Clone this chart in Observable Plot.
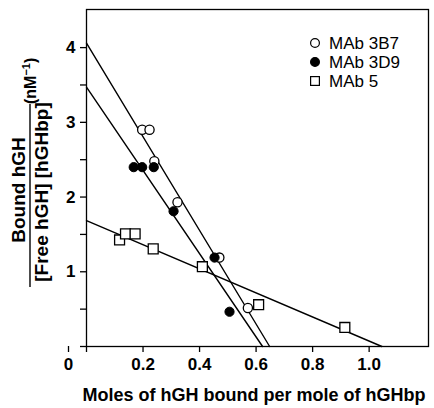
<!DOCTYPE html>
<html><head><meta charset="utf-8">
<script src="https://cdn.jsdelivr.net/npm/d3@7"></script>
<script src="https://cdn.jsdelivr.net/npm/@observablehq/plot@0.6"></script>
<style>body{margin:0;background:#fff}</style>
</head><body><div id="chart"></div>
<script>
// Data
const x3B7 = [0.197, 0.223, 0.240, 0.322, 0.470, 0.571];
const y3B7 = [2.90, 2.90, 2.48, 1.93, 1.19, 0.515];
const x3D9 = [0.167, 0.197, 0.238, 0.308, 0.453, 0.506];
const y3D9 = [2.40, 2.40, 2.40, 1.81, 1.19, 0.465];
const x5 = [0.117, 0.138, 0.172, 0.236, 0.410, 0.609, 0.914];
const y5 = [1.426, 1.507, 1.507, 1.306, 1.068, 0.559, 0.255];
// fitted lines: [y-intercept at x=0, x-intercept at y=0]
const fitSeries = ["MAb 3B7", "MAb 3D9", "MAb 5"];
const fitYIntercept = [4.06, 3.47, 1.685];
const fitXIntercept = [0.648, 0.623, 1.045];
const xTicks = [0.2, 0.4, 0.6, 0.8, 1.0];
const yTicks = [0, 0.5, 1, 1.5, 2, 2.5, 3, 3.5, 4];

const pts = (xs, ys) => xs.map((x, i) => ({x, y: ys[i]}));
const d3B7 = pts(x3B7, y3B7), d3D9 = pts(x3D9, y3D9), d5 = pts(x5, y5);
const fits = fitSeries.flatMap((s, i) => [
  {s, x: 0, y: fitYIntercept[i]},
  {s, x: fitXIntercept[i], y: 0}
]);

const font = "'Liberation Sans', Arial, Helvetica, sans-serif";
const plot = Plot.plot({
  width: 434, height: 408,
  marginLeft: 86, marginRight: 6, marginTop: 9, marginBottom: 62,
  x: {domain: [0, 1.21]},
  y: {domain: [0, 4.51]},
  style: {fontFamily: font, fontSize: "17px", fontWeight: "bold", color: "#000", background: "#fff"},
  marks: [
    Plot.frame({stroke: "#000", strokeWidth: 1.3}),
    Plot.axisX({ticks: [0, ...xTicks], tickSize: 6, tickPadding: 5, strokeWidth: 1.3,
      tickFormat: d => d === 0 ? "" : d.toFixed(1), label: null}),
    Plot.axisX({ticks: [0], tickSize: 6, tickPadding: 5, tickFormat: () => "0", dx: -18, label: null, strokeWidth: 1.3}),
    Plot.axisY({ticks: yTicks, tickSize: 6, tickPadding: 5, strokeWidth: 1.3,
      tickFormat: d => (Number.isInteger(d) && d > 0) ? String(d) : "", label: null}),
    Plot.line(fits, {x: "x", y: "y", z: "s", stroke: "#000", strokeWidth: 1.4}),
    Plot.dot(d3B7, {x: "x", y: "y", r: 4.6, fill: "#fff", stroke: "#000", strokeWidth: 1.3}),
    Plot.dot(d3D9, {x: "x", y: "y", r: 4.6, fill: "#000", stroke: "#000", strokeWidth: 1}),
    Plot.dot(d5, {x: "x", y: "y", symbol: "square", r: 5.6, fill: "#fff", stroke: "#000", strokeWidth: 1.3})
  ]
});
document.getElementById("chart").append(plot);

const svg = d3.select(plot);
// X axis title
svg.append("text").attr("x", 254).attr("y", 401).attr("text-anchor", "middle")
  .attr("font-family", font).attr("font-weight", "bold").attr("font-size", 18)
  .text("Moles of hGH bound per mole of hGHbp");

// Y axis title (fraction)
const g = svg.append("g").attr("transform", "translate(0,192) rotate(-90)")
  .attr("font-family", font).attr("font-weight", "bold").attr("fill", "#000");
g.append("text").attr("x", 2).attr("y", 25).attr("text-anchor", "middle").attr("font-size", 19).text("Bound hGH");
g.append("line").attr("x1", -95).attr("x2", 88).attr("y1", 30).attr("y2", 30).attr("stroke", "#000").attr("stroke-width", 1.4);
g.append("text").attr("x", 0).attr("y", 48).attr("text-anchor", "middle").attr("font-size", 19).text("[Free hGH] [hGHbp]");
const u = g.append("text").attr("x", 88).attr("y", 36).attr("text-anchor", "start").attr("font-size", 16);
u.append("tspan").text("(nM");
u.append("tspan").attr("font-size", 11).attr("dy", -6).text("\u22121");
u.append("tspan").attr("dy", 6).text(")");

// Legend
const legend = [
  {label: "MAb 3B7", kind: "open", y: 43},
  {label: "MAb 3D9", kind: "filled", y: 62},
  {label: "MAb 5", kind: "square", y: 81}
];
const lg = svg.append("g").attr("font-family", font).attr("font-size", 17)
  .attr("font-weight", "normal").attr("text-anchor", "start");
legend.forEach(d => {
  if (d.kind === "square") {
    lg.append("rect").attr("x", 315 - 4.4).attr("y", d.y - 4.4).attr("width", 8.8).attr("height", 8.8)
      .attr("fill", "#fff").attr("stroke", "#000").attr("stroke-width", 1.2);
  } else {
    lg.append("circle").attr("cx", 315).attr("cy", d.y).attr("r", 4.4)
      .attr("fill", d.kind === "filled" ? "#000" : "#fff").attr("stroke", "#000").attr("stroke-width", 1.2);
  }
  lg.append("text").attr("x", 329).attr("y", d.y + 6).text(d.label);
});
</script></body></html>
